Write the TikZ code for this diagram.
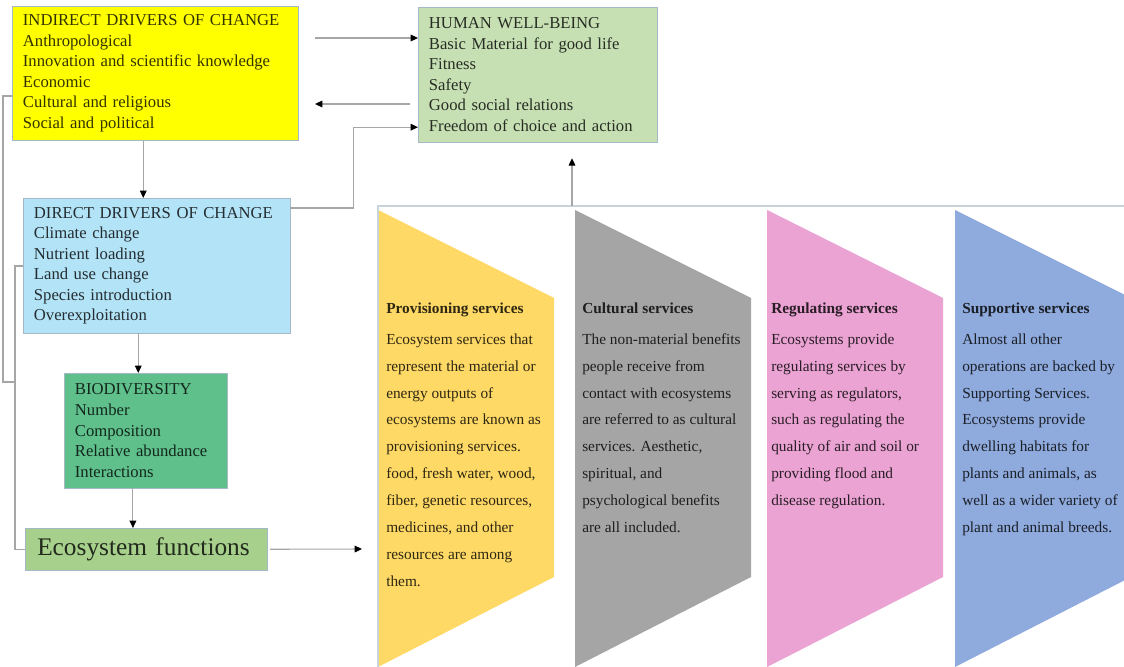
\documentclass[tikz,border=0pt]{standalone}
\usepackage{fontspec}
\setmainfont{Liberation Serif}
\usetikzlibrary{arrows.meta}
\definecolor{indfill}{HTML}{FFFF00}
\definecolor{hwbfill}{HTML}{C6E0B4}
\definecolor{dirfill}{HTML}{B3E3F6}
\definecolor{biofill}{HTML}{5FC08C}
\definecolor{ecofill}{HTML}{A8D08D}
\definecolor{provfill}{HTML}{FFD966}
\definecolor{cultfill}{HTML}{A5A5A5}
\definecolor{regfill}{HTML}{EAA3D3}
\definecolor{suppfill}{HTML}{8FAADC}
\definecolor{boxline}{HTML}{A4B8C6}
\definecolor{frameline}{HTML}{C8D3DB}
\tikzset{
  box/.style={draw=boxline, fill=#1, text=black!80!#1, anchor=north west, align=left,
    inner xsep=8pt, inner ysep=2pt, font=\fontsize{12.5}{15.4}\selectfont},
  conn/.style={draw=gray!70, line width=0.8pt},
  arr/.style={conn, -{Triangle[length=5.5pt,width=5pt,color=black]}},
  svc/.style={anchor=north west, align=left, inner sep=0pt, text=black!82!#1,
    font=\fontsize{11.5}{20.2}\selectfont}
}
\begin{document}
\begin{tikzpicture}[x=0.75pt,y=-0.75pt]
\useasboundingbox (0,0) rectangle (1124,667);
% left column
\node[box=indfill, text width=198.5pt, minimum height=100.5pt] (ind) at (12,6)
  {INDIRECT DRIVERS OF CHANGE\\Anthropological\\Innovation and scientific  knowledge\\Economic\\Cultural and religious\\Social and political};
\node[box=hwbfill, text width=163pt, minimum height=101pt] (hwb) at (418,7)
  {HUMAN WELL-BEING\\Basic Material  for good life\\Fitness\\Safety\\Good social relations\\Freedom of choice and action};
\node[box=dirfill, text width=184pt, minimum height=101pt] (dir) at (23,198)
  {DIRECT DRIVERS OF CHANGE\\Climate change\\Nutrient loading\\Land use change\\Species introduction\\Overexploitation};
\node[box=biofill, text width=106pt, minimum height=86pt] (bio) at (64,373)
  {BIODIVERSITY\\Number\\Composition\\Relative abundance\\Interactions};
\node[box=ecofill, text width=163.5pt, minimum height=31.5pt, inner xsep=9pt,
  font=\fontsize{19}{22}\selectfont] (eco) at (25,528) {Ecosystem functions};
% services
\foreach \x/\c in {378/provfill,575/cultfill,767/regfill,955/suppfill}
  \fill[\c] (\x,210) -- (\x+176,298) -- (\x+176,577) -- (\x,667) -- cycle;
\draw[frameline, line width=1.5pt] (1124,206) -- (378,206) -- (378,667);
\node[svc=provfill] (prov) at (386,303) {\textbf{Provisioning services}\\[2.5pt]Ecosystem services that\\represent the material or\\energy outputs of\\ecosystems are known as\\provisioning services.\\food, fresh water, wood,\\fiber, genetic resources,\\medicines, and other\\resources are among\\them.};
\node[svc=cultfill] (cult) at (582,303) {\textbf{Cultural services}\\[2.5pt]The non-material benefits\\people receive from\\contact with ecosystems\\are referred to as cultural\\services. Aesthetic,\\spiritual, and\\psychological benefits\\are all included.};
\node[svc=regfill] (reg) at (771,303) {\textbf{Regulating services}\\[2.5pt]Ecosystems provide\\regulating services by\\serving as regulators,\\such as regulating the\\quality of air and soil or\\providing flood and\\disease regulation.};
\node[svc=suppfill] (supp) at (962,303) {\textbf{Supportive services}\\[2.5pt]Almost all other\\operations are backed by\\Supporting Services.\\Ecosystems provide\\dwelling habitats for\\plants and animals, as\\well as a wider variety of\\plant and animal breeds.};
% connectors
\coordinate (toh) at (315,38);
\coordinate (fromh) at (315,104);
\coordinate (svcin) at (362,549);
\coordinate (svctop) at (572,206);
\draw[arr] (toh) -- (toh -| hwb.west);
\draw[arr] ([xshift=-6pt]hwb.west |- fromh) -- (fromh);
\draw[arr] ([yshift=-7.5pt]dir.north east) -- ++(63,0) |- ([yshift=11.25pt]hwb.south west);
\draw[arr] ([xshift=-9pt]ind.south) -- ([xshift=-9pt]ind.south |- dir.north);
\draw[arr] ([xshift=-5.5pt]bio.north |- dir.south) -- ([xshift=-5.5pt]bio.north);
\draw[arr] ([xshift=-9.5pt]bio.south) -- ([xshift=-9.5pt]bio.south |- eco.north);
\draw[arr] ([xshift=2pt]eco.east) -- (svcin);
\draw[arr] (svctop) -- ([yshift=-12pt]hwb.south -| svctop);
\draw[conn] ([yshift=-67.5pt]ind.north west) -- ++(-9,0) -- ++(0,286) -- ++(12,0);
\draw[conn] ([yshift=-51pt]dir.north west) -- ++(-8,0) |- (eco.west);
\end{tikzpicture}
\end{document}
